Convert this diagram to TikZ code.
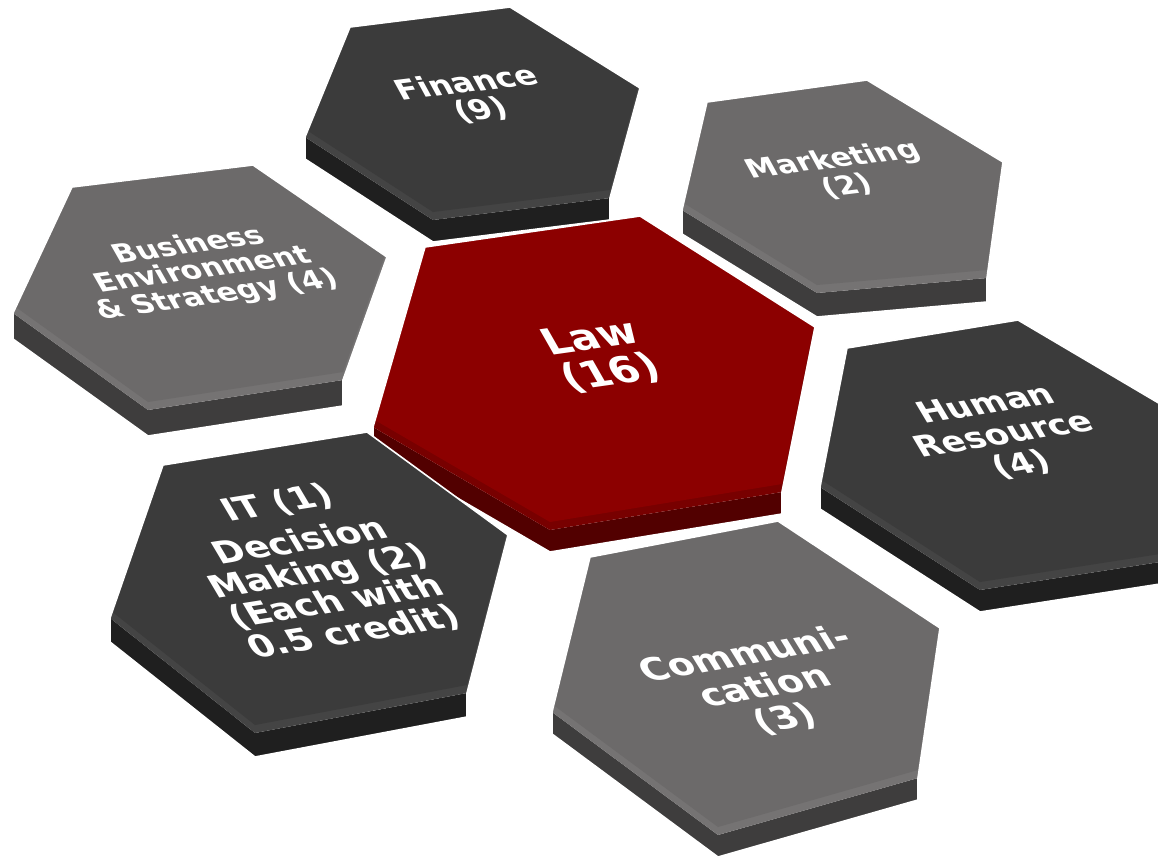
\documentclass[tikz,border=0pt]{standalone}
\usepackage{fontspec}
\setmainfont{DejaVu Sans}

\definecolor{topdark}{HTML}{3B3B3B}
\definecolor{beveldark}{HTML}{444444}
\definecolor{sidedark}{HTML}{1F1F1F}
\definecolor{topgrey}{HTML}{6C6A6A}
\definecolor{bevelgrey}{HTML}{757373}
\definecolor{sidegrey}{HTML}{3E3D3D}
\definecolor{topred}{HTML}{8C0000}
\definecolor{bevelred}{HTML}{780000}
\definecolor{sidered}{HTML}{520000}

\tikzset{
  hexlabel/.style={align=center, text=white, inner sep=0pt, yscale=0.88, xslant=-0.35},
  hexedge/.style={draw=white, line width=0.8pt, line join=round},
}

\begin{document}
\begin{tikzpicture}[x=0.5pt,y=-0.5pt]
   \path[fill=white] (0,0) rectangle (1158,858);
   \useasboundingbox (0,0) rectangle (1158,858);

   % top face corners: t, ur, lr, b, ll, ul
   \coordinate (fin-t) at (510,7);   \coordinate (fin-ur) at (640,88);   \coordinate (fin-lr) at (610,198);
   \coordinate (fin-b) at (433,220); \coordinate (fin-ll) at (305,137);  \coordinate (fin-ul) at (350,27);
   \coordinate (mkt-t) at (867,80);  \coordinate (mkt-ur) at (1003,162); \coordinate (mkt-lr) at (987,278);
   \coordinate (mkt-b) at (817,293); \coordinate (mkt-ll) at (682,210);  \coordinate (mkt-ul) at (707,102);
   \coordinate (biz-t) at (253,165); \coordinate (biz-ur) at (387,257);  \coordinate (biz-lr) at (343,380);
   \coordinate (biz-b) at (148,410); \coordinate (biz-ll) at (13,313);   \coordinate (biz-ul) at (72,187);
   \coordinate (law-t) at (640,216); \coordinate (law-ur) at (815,327);  \coordinate (law-lr) at (782,492);
   \coordinate (law-b) at (550,530); \coordinate (law-ll) at (373,427);  \coordinate (law-ul) at (425,247);
   \coordinate (hr-t) at (1018,320); \coordinate (hr-ur) at (1162,405);  \coordinate (hr-lr) at (1160,562);
   \coordinate (hr-b) at (980,590);  \coordinate (hr-ll) at (820,487);   \coordinate (hr-ul) at (847,348);
   \coordinate (it-t) at (367,432);  \coordinate (it-ur) at (508,535);   \coordinate (it-lr) at (467,693);
   \coordinate (it-b) at (255,733);  \coordinate (it-ll) at (110,618);   \coordinate (it-ul) at (163,465);
   \coordinate (com-t) at (778,521); \coordinate (com-ur) at (940,628);  \coordinate (com-lr) at (918,778);
   \coordinate (com-b) at (718,835); \coordinate (com-ll) at (552,712);  \coordinate (com-ul) at (590,557);

   % back to front
   \foreach \n/\th/\col in {fin/11/dark, mkt/12/grey, biz/13/grey, law/11/red, hr/11/dark, it/12/dark, com/11/grey}
   {
       \fill[side\col] (\n-ll) -- (\n-b) -- (\n-lr) -- ([yshift=-\th pt]\n-lr) -- ([yshift=-\th pt]\n-b) -- ([yshift=-\th pt]\n-ll) -- cycle;
       \begin{scope}
           \clip (\n-t) -- (\n-ur) -- (\n-lr) -- (\n-b) -- (\n-ll) -- (\n-ul) -- cycle;
           \fill[bevel\col] (\n-t) -- (\n-ur) -- (\n-lr) -- (\n-b) -- (\n-ll) -- (\n-ul) -- cycle;
           \fill[top\col] ([yshift=4pt]\n-t) -- ([yshift=4pt]\n-ur) -- ([yshift=4pt]\n-lr) -- ([yshift=4pt]\n-b) -- ([yshift=4pt]\n-ll) -- ([yshift=4pt]\n-ul) -- cycle;
       \end{scope}
       \draw[hexedge] (\n-ul) -- (\n-t) -- (\n-ur) -- (\n-lr) -- ([yshift=-\th pt]\n-lr) -- ([yshift=-\th pt]\n-b) -- ([yshift=-\th pt]\n-ll) -- (\n-ll) -- cycle;
   }

   \foreach \n/\x/\y/\r/\s/\k/\txt in {fin/474/97/7/16/16/{Finance\\(9)},
       mkt/840/173/7/15/16/{Marketing\\(2)},
       biz/203/271/8/15/15/{Business\\Environment\\\& Strategy (4)},
       law/601/356/8/21/21.5/{Law\\(16)},
       hr/1004/435/9/17/18.5/{Human\\Resource\\(4)},
       it/316/568/9/18/18.5/{IT (1)\\[5pt]Decision\\Making (2)\\(Each with\\0.5 credit)},
       com/765/687/10/18.5/20/{Communi-\\cation\\(3)}}
   {
       \node[rotate=\r, hexlabel, font=\fontsize{\s}{\k}\selectfont\bfseries] (\n-lbl) at (\x,\y) {\txt};
   }
\end{tikzpicture}
\end{document}
